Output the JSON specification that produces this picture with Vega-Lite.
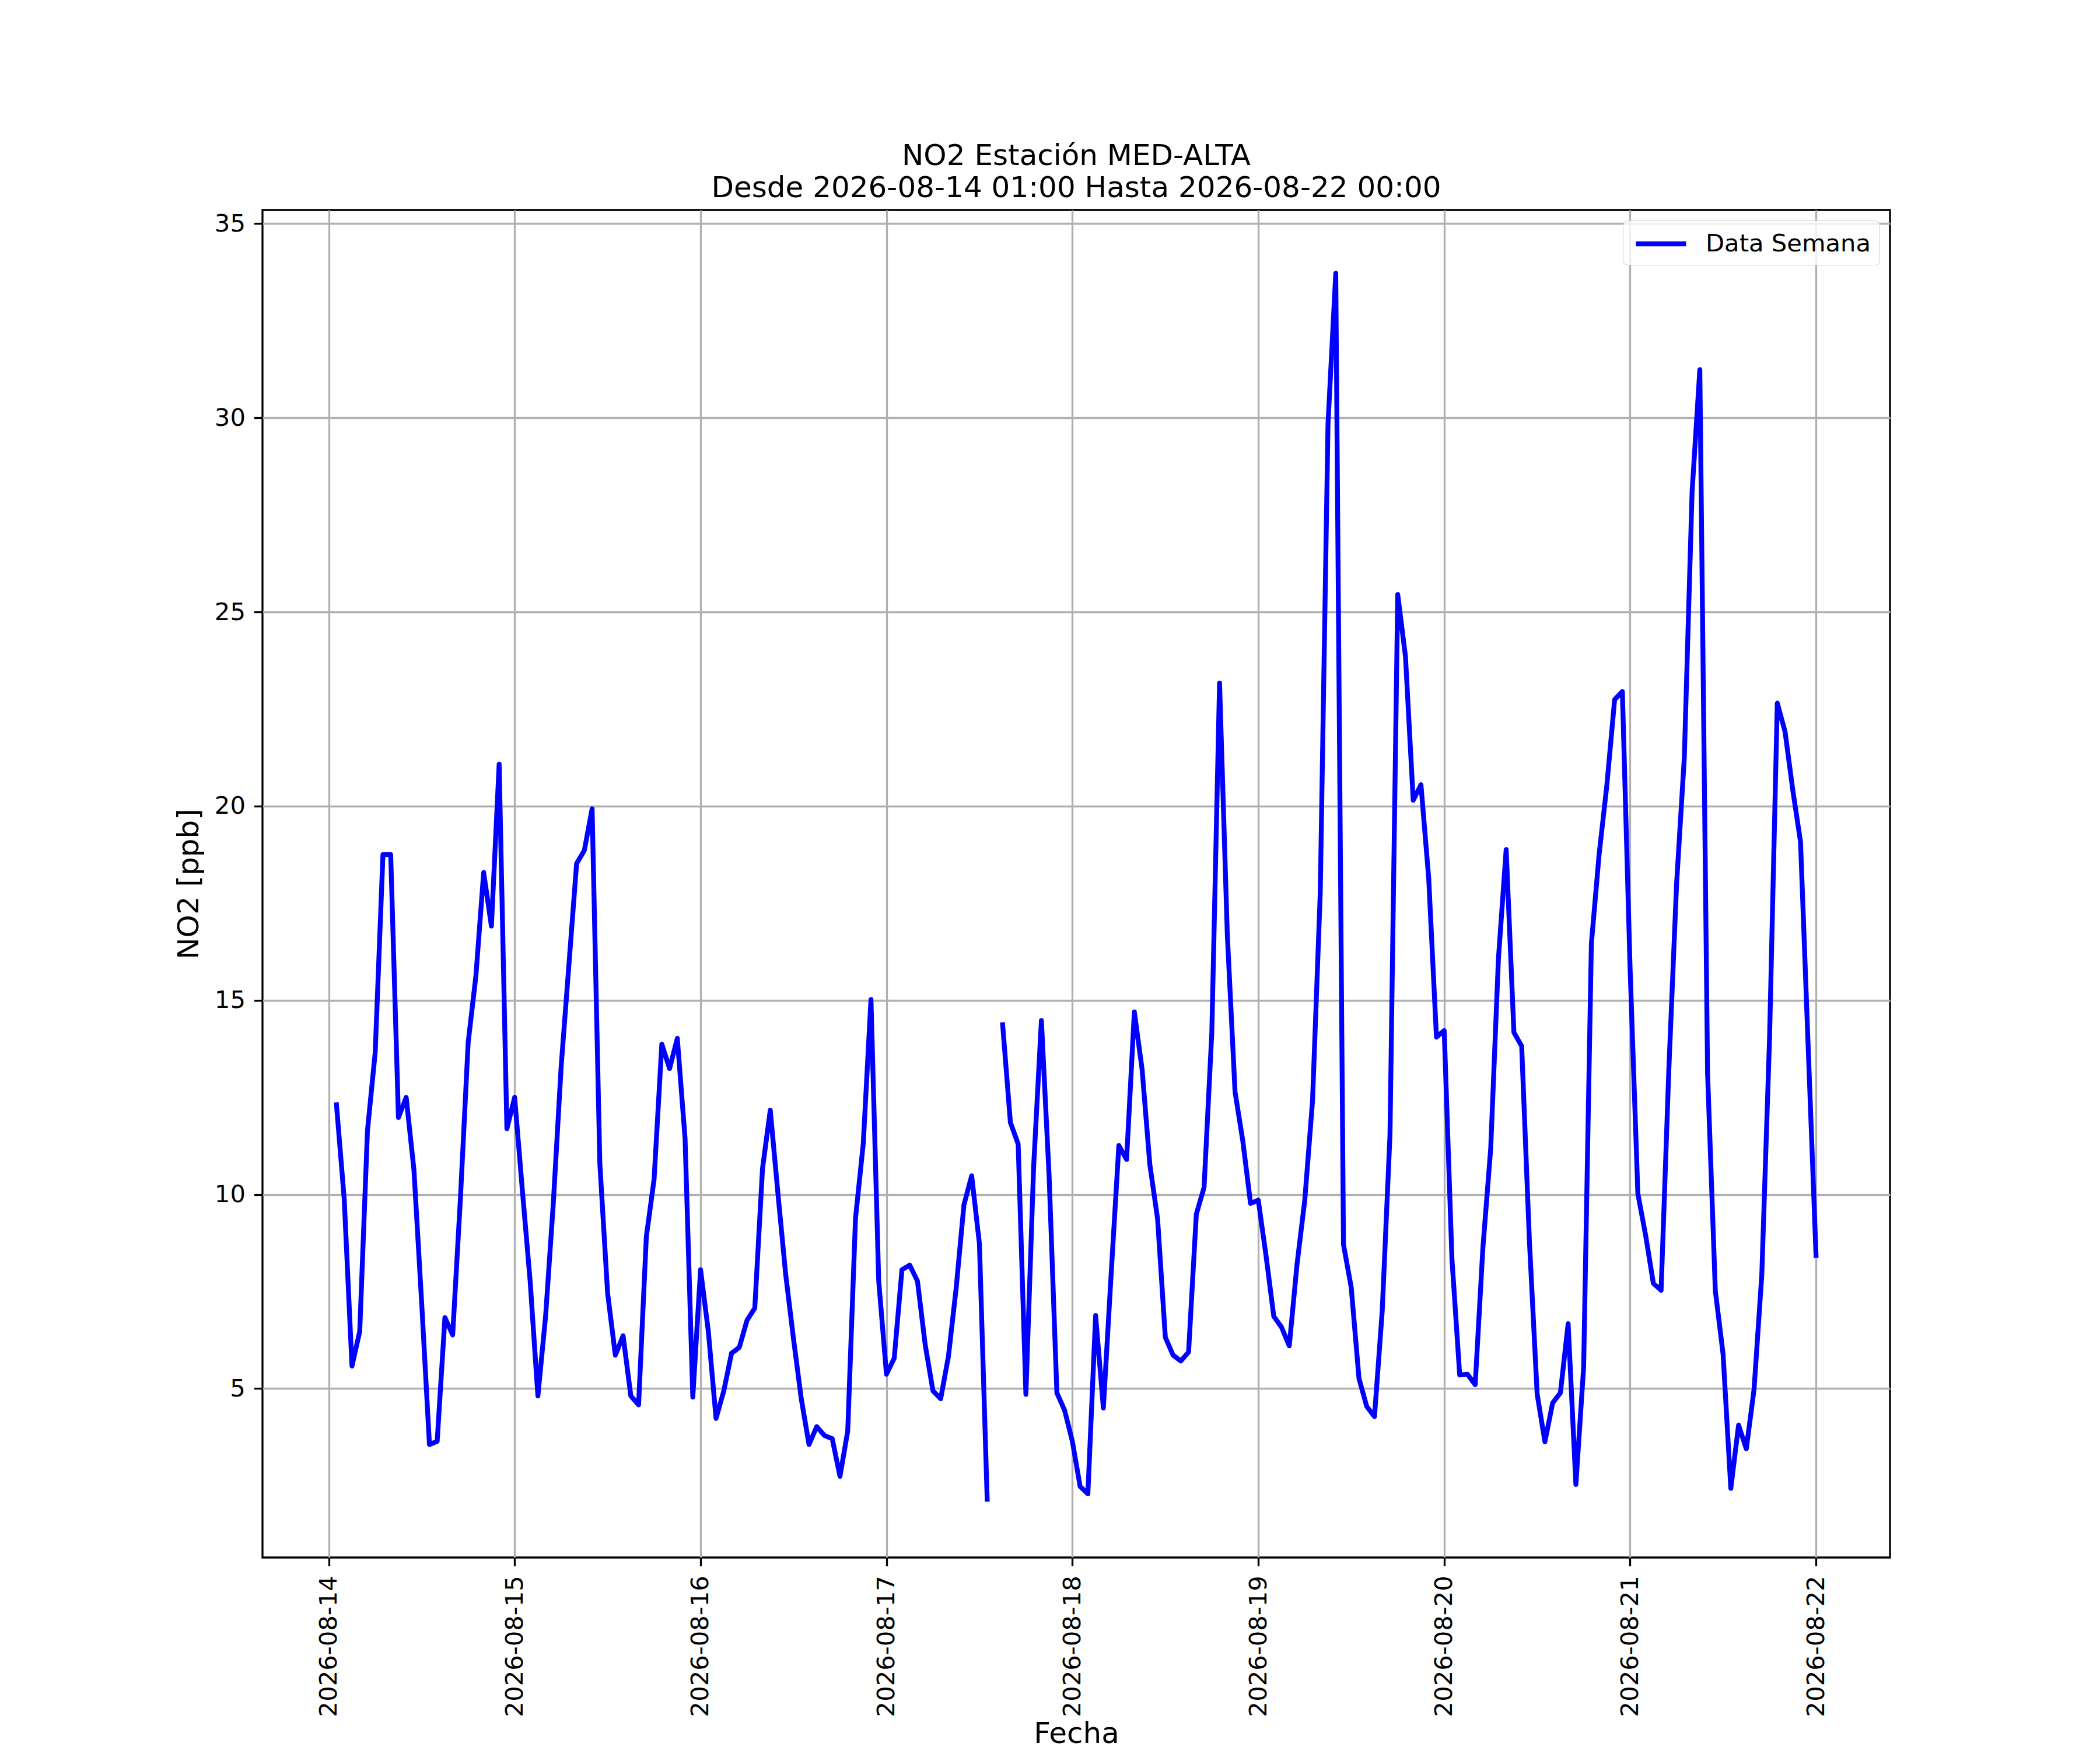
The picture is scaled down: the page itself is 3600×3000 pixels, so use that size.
{
  "$schema": "https://vega.github.io/schema/vega-lite/v6.json",
  "autosize": {"type": "none"},
  "padding": {"left": 450, "top": 360, "right": 360, "bottom": 330},
  "width": 2790,
  "height": 2310,
  "background": "white",
  "title": {
    "text": ["NO2 Estación MED-ALTA", "Desde 2026-08-14 01:00 Hasta 2026-08-22 00:00"],
    "fontSize": 50,
    "fontWeight": "normal",
    "font": "DejaVu Sans",
    "color": "black",
    "anchor": "middle",
    "lineHeight": 55,
    "offset": 12
  },
  "data": {
    "values": [
      {"t": "2026-08-14T01:00:00", "v": 12.31},
      {"t": "2026-08-14T02:00:00", "v": 9.88},
      {"t": "2026-08-14T03:00:00", "v": 5.58},
      {"t": "2026-08-14T04:00:00", "v": 6.47},
      {"t": "2026-08-14T05:00:00", "v": 11.64},
      {"t": "2026-08-14T06:00:00", "v": 13.66},
      {"t": "2026-08-14T07:00:00", "v": 18.75},
      {"t": "2026-08-14T08:00:00", "v": 18.75},
      {"t": "2026-08-14T09:00:00", "v": 11.98},
      {"t": "2026-08-14T10:00:00", "v": 12.5},
      {"t": "2026-08-14T11:00:00", "v": 10.63},
      {"t": "2026-08-14T12:00:00", "v": 7.2},
      {"t": "2026-08-14T13:00:00", "v": 3.56},
      {"t": "2026-08-14T14:00:00", "v": 3.64},
      {"t": "2026-08-14T15:00:00", "v": 6.83},
      {"t": "2026-08-14T16:00:00", "v": 6.38},
      {"t": "2026-08-14T17:00:00", "v": 9.9},
      {"t": "2026-08-14T18:00:00", "v": 13.91},
      {"t": "2026-08-14T19:00:00", "v": 15.63},
      {"t": "2026-08-14T20:00:00", "v": 18.29},
      {"t": "2026-08-14T21:00:00", "v": 16.91},
      {"t": "2026-08-14T22:00:00", "v": 21.08},
      {"t": "2026-08-14T23:00:00", "v": 11.69},
      {"t": "2026-08-15T00:00:00", "v": 12.5},
      {"t": "2026-08-15T01:00:00", "v": 10.1},
      {"t": "2026-08-15T02:00:00", "v": 7.77},
      {"t": "2026-08-15T03:00:00", "v": 4.81},
      {"t": "2026-08-15T04:00:00", "v": 6.87},
      {"t": "2026-08-15T05:00:00", "v": 9.8},
      {"t": "2026-08-15T06:00:00", "v": 13.28},
      {"t": "2026-08-15T07:00:00", "v": 15.9},
      {"t": "2026-08-15T08:00:00", "v": 18.52},
      {"t": "2026-08-15T09:00:00", "v": 18.86},
      {"t": "2026-08-15T10:00:00", "v": 19.93},
      {"t": "2026-08-15T11:00:00", "v": 10.79},
      {"t": "2026-08-15T12:00:00", "v": 7.46},
      {"t": "2026-08-15T13:00:00", "v": 5.86},
      {"t": "2026-08-15T14:00:00", "v": 6.36},
      {"t": "2026-08-15T15:00:00", "v": 4.81},
      {"t": "2026-08-15T16:00:00", "v": 4.58},
      {"t": "2026-08-15T17:00:00", "v": 8.91},
      {"t": "2026-08-15T18:00:00", "v": 10.39},
      {"t": "2026-08-15T19:00:00", "v": 13.87},
      {"t": "2026-08-15T20:00:00", "v": 13.24},
      {"t": "2026-08-15T21:00:00", "v": 14.02},
      {"t": "2026-08-15T22:00:00", "v": 11.44},
      {"t": "2026-08-15T23:00:00", "v": 4.78},
      {"t": "2026-08-16T00:00:00", "v": 8.06},
      {"t": "2026-08-16T01:00:00", "v": 6.48},
      {"t": "2026-08-16T02:00:00", "v": 4.23},
      {"t": "2026-08-16T03:00:00", "v": 4.94},
      {"t": "2026-08-16T04:00:00", "v": 5.91},
      {"t": "2026-08-16T05:00:00", "v": 6.06},
      {"t": "2026-08-16T06:00:00", "v": 6.76},
      {"t": "2026-08-16T07:00:00", "v": 7.07},
      {"t": "2026-08-16T08:00:00", "v": 10.67},
      {"t": "2026-08-16T09:00:00", "v": 12.17},
      {"t": "2026-08-16T10:00:00", "v": 10.0},
      {"t": "2026-08-16T11:00:00", "v": 7.92},
      {"t": "2026-08-16T12:00:00", "v": 6.28},
      {"t": "2026-08-16T13:00:00", "v": 4.74},
      {"t": "2026-08-16T14:00:00", "v": 3.56},
      {"t": "2026-08-16T15:00:00", "v": 4.02},
      {"t": "2026-08-16T16:00:00", "v": 3.79},
      {"t": "2026-08-16T17:00:00", "v": 3.71},
      {"t": "2026-08-16T18:00:00", "v": 2.74},
      {"t": "2026-08-16T19:00:00", "v": 3.91},
      {"t": "2026-08-16T20:00:00", "v": 9.38},
      {"t": "2026-08-16T21:00:00", "v": 11.3},
      {"t": "2026-08-16T22:00:00", "v": 15.02},
      {"t": "2026-08-16T23:00:00", "v": 7.77},
      {"t": "2026-08-17T00:00:00", "v": 5.37},
      {"t": "2026-08-17T01:00:00", "v": 5.78},
      {"t": "2026-08-17T02:00:00", "v": 8.06},
      {"t": "2026-08-17T03:00:00", "v": 8.18},
      {"t": "2026-08-17T04:00:00", "v": 7.77},
      {"t": "2026-08-17T05:00:00", "v": 6.13},
      {"t": "2026-08-17T06:00:00", "v": 4.94},
      {"t": "2026-08-17T07:00:00", "v": 4.74},
      {"t": "2026-08-17T08:00:00", "v": 5.83},
      {"t": "2026-08-17T09:00:00", "v": 7.59},
      {"t": "2026-08-17T10:00:00", "v": 9.73},
      {"t": "2026-08-17T11:00:00", "v": 10.48},
      {"t": "2026-08-17T12:00:00", "v": 8.73},
      {"t": "2026-08-17T13:00:00", "v": 2.15},
      {"t": "2026-08-17T14:00:00", "v": null},
      {"t": "2026-08-17T15:00:00", "v": 14.37},
      {"t": "2026-08-17T16:00:00", "v": 11.85},
      {"t": "2026-08-17T17:00:00", "v": 11.3},
      {"t": "2026-08-17T18:00:00", "v": 4.85},
      {"t": "2026-08-17T19:00:00", "v": 10.72},
      {"t": "2026-08-17T20:00:00", "v": 14.48},
      {"t": "2026-08-17T21:00:00", "v": 10.46},
      {"t": "2026-08-17T22:00:00", "v": 4.89},
      {"t": "2026-08-17T23:00:00", "v": 4.44},
      {"t": "2026-08-18T00:00:00", "v": 3.64},
      {"t": "2026-08-18T01:00:00", "v": 2.48},
      {"t": "2026-08-18T02:00:00", "v": 2.29},
      {"t": "2026-08-18T03:00:00", "v": 6.88},
      {"t": "2026-08-18T04:00:00", "v": 4.5},
      {"t": "2026-08-18T05:00:00", "v": 7.93},
      {"t": "2026-08-18T06:00:00", "v": 11.26},
      {"t": "2026-08-18T07:00:00", "v": 10.9},
      {"t": "2026-08-18T08:00:00", "v": 14.7},
      {"t": "2026-08-18T09:00:00", "v": 13.22},
      {"t": "2026-08-18T10:00:00", "v": 10.77},
      {"t": "2026-08-18T11:00:00", "v": 9.37},
      {"t": "2026-08-18T12:00:00", "v": 6.32},
      {"t": "2026-08-18T13:00:00", "v": 5.86},
      {"t": "2026-08-18T14:00:00", "v": 5.71},
      {"t": "2026-08-18T15:00:00", "v": 5.94},
      {"t": "2026-08-18T16:00:00", "v": 9.49},
      {"t": "2026-08-18T17:00:00", "v": 10.18},
      {"t": "2026-08-18T18:00:00", "v": 14.17},
      {"t": "2026-08-18T19:00:00", "v": 23.17},
      {"t": "2026-08-18T20:00:00", "v": 16.7},
      {"t": "2026-08-18T21:00:00", "v": 12.64},
      {"t": "2026-08-18T22:00:00", "v": 11.38},
      {"t": "2026-08-18T23:00:00", "v": 9.77},
      {"t": "2026-08-19T00:00:00", "v": 9.85},
      {"t": "2026-08-19T01:00:00", "v": 8.42},
      {"t": "2026-08-19T02:00:00", "v": 6.86},
      {"t": "2026-08-19T03:00:00", "v": 6.58},
      {"t": "2026-08-19T04:00:00", "v": 6.1},
      {"t": "2026-08-19T05:00:00", "v": 8.2},
      {"t": "2026-08-19T06:00:00", "v": 9.85},
      {"t": "2026-08-19T07:00:00", "v": 12.4},
      {"t": "2026-08-19T08:00:00", "v": 17.77},
      {"t": "2026-08-19T09:00:00", "v": 29.85},
      {"t": "2026-08-19T10:00:00", "v": 33.72},
      {"t": "2026-08-19T11:00:00", "v": 8.71},
      {"t": "2026-08-19T12:00:00", "v": 7.6},
      {"t": "2026-08-19T13:00:00", "v": 5.26},
      {"t": "2026-08-19T14:00:00", "v": 4.54},
      {"t": "2026-08-19T15:00:00", "v": 4.28},
      {"t": "2026-08-19T16:00:00", "v": 7.0},
      {"t": "2026-08-19T17:00:00", "v": 11.53},
      {"t": "2026-08-19T18:00:00", "v": 25.45},
      {"t": "2026-08-19T19:00:00", "v": 23.85},
      {"t": "2026-08-19T20:00:00", "v": 20.15},
      {"t": "2026-08-19T21:00:00", "v": 20.55},
      {"t": "2026-08-19T22:00:00", "v": 18.14},
      {"t": "2026-08-19T23:00:00", "v": 14.05},
      {"t": "2026-08-20T00:00:00", "v": 14.22},
      {"t": "2026-08-20T01:00:00", "v": 8.34},
      {"t": "2026-08-20T02:00:00", "v": 5.35},
      {"t": "2026-08-20T03:00:00", "v": 5.37},
      {"t": "2026-08-20T04:00:00", "v": 5.1},
      {"t": "2026-08-20T05:00:00", "v": 8.64},
      {"t": "2026-08-20T06:00:00", "v": 11.17},
      {"t": "2026-08-20T07:00:00", "v": 16.07},
      {"t": "2026-08-20T08:00:00", "v": 18.88},
      {"t": "2026-08-20T09:00:00", "v": 14.17},
      {"t": "2026-08-20T10:00:00", "v": 13.82},
      {"t": "2026-08-20T11:00:00", "v": 8.8},
      {"t": "2026-08-20T12:00:00", "v": 4.86},
      {"t": "2026-08-20T13:00:00", "v": 3.63},
      {"t": "2026-08-20T14:00:00", "v": 4.63},
      {"t": "2026-08-20T15:00:00", "v": 4.89},
      {"t": "2026-08-20T16:00:00", "v": 6.67},
      {"t": "2026-08-20T17:00:00", "v": 2.53},
      {"t": "2026-08-20T18:00:00", "v": 5.55},
      {"t": "2026-08-20T19:00:00", "v": 16.46},
      {"t": "2026-08-20T20:00:00", "v": 18.76},
      {"t": "2026-08-20T21:00:00", "v": 20.54},
      {"t": "2026-08-20T22:00:00", "v": 22.74},
      {"t": "2026-08-20T23:00:00", "v": 22.95},
      {"t": "2026-08-21T00:00:00", "v": 15.8},
      {"t": "2026-08-21T01:00:00", "v": 10.02},
      {"t": "2026-08-21T02:00:00", "v": 8.95},
      {"t": "2026-08-21T03:00:00", "v": 7.71},
      {"t": "2026-08-21T04:00:00", "v": 7.53},
      {"t": "2026-08-21T05:00:00", "v": 13.22},
      {"t": "2026-08-21T06:00:00", "v": 18.0},
      {"t": "2026-08-21T07:00:00", "v": 21.26},
      {"t": "2026-08-21T08:00:00", "v": 28.09},
      {"t": "2026-08-21T09:00:00", "v": 31.24},
      {"t": "2026-08-21T10:00:00", "v": 13.12},
      {"t": "2026-08-21T11:00:00", "v": 7.52},
      {"t": "2026-08-21T12:00:00", "v": 5.89},
      {"t": "2026-08-21T13:00:00", "v": 2.43},
      {"t": "2026-08-21T14:00:00", "v": 4.06},
      {"t": "2026-08-21T15:00:00", "v": 3.45},
      {"t": "2026-08-21T16:00:00", "v": 4.98},
      {"t": "2026-08-21T17:00:00", "v": 7.93},
      {"t": "2026-08-21T18:00:00", "v": 14.03},
      {"t": "2026-08-21T19:00:00", "v": 22.65},
      {"t": "2026-08-21T20:00:00", "v": 21.92},
      {"t": "2026-08-21T21:00:00", "v": 20.41},
      {"t": "2026-08-21T22:00:00", "v": 19.08},
      {"t": "2026-08-21T23:00:00", "v": 13.73},
      {"t": "2026-08-22T00:00:00", "v": 8.43}
    ]
  },
  "mark": {
    "type": "line",
    "strokeWidth": 8.3,
    "strokeJoin": "round",
    "strokeCap": "square",
    "invalid": "break-paths-filter-domains"
  },
  "encoding": {
    "x": {
      "field": "t",
      "type": "temporal",
      "scale": {
        "domain": [
          {"year": 2026, "month": 8, "date": 13, "hours": 15, "minutes": 27},
          {"year": 2026, "month": 8, "date": 22, "hours": 9, "minutes": 33}
        ],
        "nice": false
      },
      "axis": {
        "values": [
          {"year": 2026, "month": 8, "date": 14},
          {"year": 2026, "month": 8, "date": 15},
          {"year": 2026, "month": 8, "date": 16},
          {"year": 2026, "month": 8, "date": 17},
          {"year": 2026, "month": 8, "date": 18},
          {"year": 2026, "month": 8, "date": 19},
          {"year": 2026, "month": 8, "date": 20},
          {"year": 2026, "month": 8, "date": 21},
          {"year": 2026, "month": 8, "date": 22}
        ],
        "format": "%Y-%m-%d",
        "labelAngle": 270,
        "labelPadding": 16,
        "labelLimit": 2000,
        "title": "Fecha",
        "titleY": 302,
        "titleBaseline": "middle"
      }
    },
    "y": {
      "field": "v",
      "type": "quantitative",
      "scale": {"domain": [0.65, 35.35], "nice": false, "zero": false},
      "axis": {
        "values": [5, 10, 15, 20, 25, 30, 35],
        "title": "NO2 [ppb]",
        "labelPadding": 15,
        "titlePadding": 18
      }
    },
    "color": {
      "datum": "Data Semana",
      "type": "nominal",
      "scale": {"range": ["#0000ff"]},
      "legend": {
        "title": null,
        "orient": "top-right",
        "offset": 18,
        "labelFontSize": 41.7,
        "labelColor": "black",
        "labelFont": "DejaVu Sans",
        "labelLimit": 2000,
        "labelOffset": 29,
        "symbolType": "M-3,0H1",
        "symbolSize": 1849,
        "symbolOffset": 47,
        "symbolStrokeWidth": 8.3,
        "strokeColor": "#cccccc",
        "fillColor": "rgba(255,255,255,0.8)",
        "cornerRadius": 8,
        "padding": 14
      }
    }
  },
  "config": {
    "font": "DejaVu Sans",
    "view": {"stroke": "black", "strokeWidth": 3.3},
    "axis": {
      "domain": false,
      "grid": true,
      "gridColor": "#b0b0b0",
      "gridWidth": 3.3,
      "ticks": true,
      "tickColor": "black",
      "tickWidth": 3.3,
      "tickSize": 14.6,
      "labelFont": "DejaVu Sans",
      "labelFontSize": 41.7,
      "labelColor": "black",
      "labelFlush": false,
      "labelOverlap": false,
      "titleFont": "DejaVu Sans",
      "titleFontSize": 50,
      "titleFontWeight": "normal",
      "titleColor": "black"
    }
  }
}
